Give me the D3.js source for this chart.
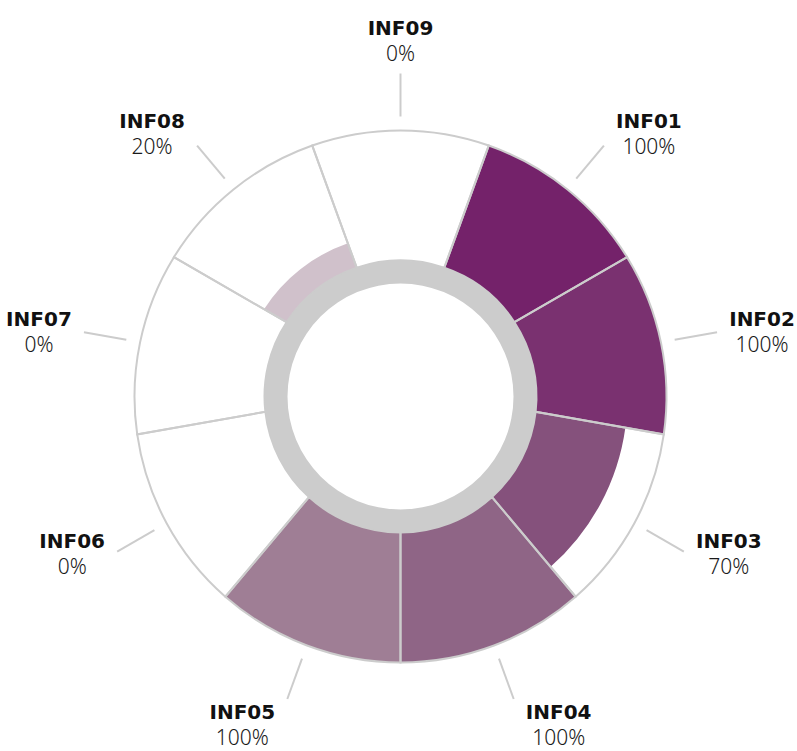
<!DOCTYPE html>
<html>
<head>
<meta charset="utf-8">
<script src="https://cdn.jsdelivr.net/npm/d3@7"></script>
<style>
  body { margin: 0; background: #fff; }
  .name { font-family: "DejaVu Sans", sans-serif; font-weight: bold; font-size: 20px; fill: #111; }
  .pct { font-family: "Noto Sans", sans-serif; font-weight: 300; font-size: 21px; fill: #1a1a1a; }
</style>
</head>
<body>
<div id="chart"></div>
<script>
var categories = ["INF01", "INF02", "INF03", "INF04", "INF05", "INF06", "INF07", "INF08", "INF09"];
var values = [100, 100, 70, 100, 100, 0, 0, 20, 0];
var palette = ["#74226a", "#7a3170", "#85517c", "#8f6586", "#9f7e95", "#b199aa", "#c0adbb", "#d0c1cb", "#e0d5dc"];

var width = 797;
var height = 751;
var cx = 400.5, cy = 396.5;

var ringInner = 113;
var innerRadius = 136;
var outerRadius = 266;
var tickIn = 280, tickOut = 323;
// the spokes fan out from a point a little above the circle centre
var hubY = -8.5;

var data = categories.map(function(c, i) {
  return { name: c, value: values[i], color: palette[i] };
});

var svg = d3.select("#chart")
  .append("svg")
  .attr("width", width)
  .attr("height", height);

var chartGroup = svg.append("g")
  .attr("transform", `translate(${cx}, ${cy})`);

var x = d3.scaleBand()
  .domain(categories)
  .range([Math.PI / 9, Math.PI * 2 + Math.PI / 9])
  .padding(0);

var y = d3.scaleLinear()
  .domain([0, 100])
  .range([innerRadius, outerRadius]);

// where a spoke from the hub at angle a crosses the circle of radius r
function hit(a, r) {
  var ux = Math.sin(a), uy = -Math.cos(a);
  var pu = hubY * uy;
  var t = -pu + Math.sqrt(pu * pu - hubY * hubY + r * r);
  return [ux * t, hubY + uy * t];
}
function polar(p) { return Math.atan2(p[1], p[0]); }

function segment(a0, a1, r0, r1) {
  var p = d3.path();
  var i0 = hit(a0, r0), o0 = hit(a0, r1), o1 = hit(a1, r1), i1 = hit(a1, r0);
  var t0 = polar(o0), t1 = polar(o1);
  if (t1 < t0) t1 += Math.PI * 2;
  var s0 = polar(i0), s1 = polar(i1);
  if (s1 < s0) s1 += Math.PI * 2;
  p.moveTo(i0[0], i0[1]);
  p.lineTo(o0[0], o0[1]);
  p.arc(0, 0, r1, t0, t1, false);
  p.lineTo(i1[0], i1[1]);
  p.arc(0, 0, r0, s1, s0, true);
  p.closePath();
  return p.toString();
}

chartGroup.selectAll(".bar")
  .data(data)
  .enter()
  .append("path")
  .attr("class", "bar")
  .attr("d", d => segment(x(d.name), x(d.name) + x.bandwidth(), innerRadius, y(d.value)))
  .attr("fill", d => d.color);

chartGroup.selectAll(".track")
  .data(data)
  .enter()
  .append("path")
  .attr("class", "track")
  .attr("d", d => segment(x(d.name), x(d.name) + x.bandwidth(), innerRadius, y(100)))
  .attr("fill", "none")
  .attr("stroke", "#cccccc")
  .attr("stroke-width", 2);

// inner grey ring
chartGroup.append("path")
  .attr("d", d3.arc().innerRadius(ringInner).outerRadius(innerRadius).startAngle(0).endAngle(Math.PI * 2)())
  .attr("fill", "#cccccc");

function mid(d) { return x(d.name) + x.bandwidth() / 2; }

chartGroup.selectAll(".tick")
  .data(data)
  .enter()
  .append("line")
  .attr("x1", d => hit(mid(d), tickIn)[0])
  .attr("y1", d => hit(mid(d), tickIn)[1])
  .attr("x2", d => hit(mid(d), tickOut)[0])
  .attr("y2", d => hit(mid(d), tickOut)[1])
  .attr("stroke", "#cccccc")
  .attr("stroke-width", 2);

var labels = chartGroup.selectAll(".label")
  .data(data)
  .enter()
  .append("g")
  .attr("transform", function(d) {
    var a = mid(d);
    var s = Math.sin(a), c = Math.cos(a);
    var end = hit(a, tickOut);
    var lx = end[0] + (Math.abs(s) > 0.1 ? Math.sign(s) * 45 : 0);
    var ly = end[1] - 33 * c * Math.pow(Math.abs(c), 3);
    return `translate(${lx}, ${ly})`;
  });

labels.append("text")
  .attr("class", "name")
  .attr("y", -6)
  .attr("text-anchor", "middle")
  .text(d => d.name);

labels.append("text")
  .attr("class", "pct")
  .attr("y", 20)
  .attr("text-anchor", "middle")
  .text(d => d.value + "%");
</script>
</body>
</html>
